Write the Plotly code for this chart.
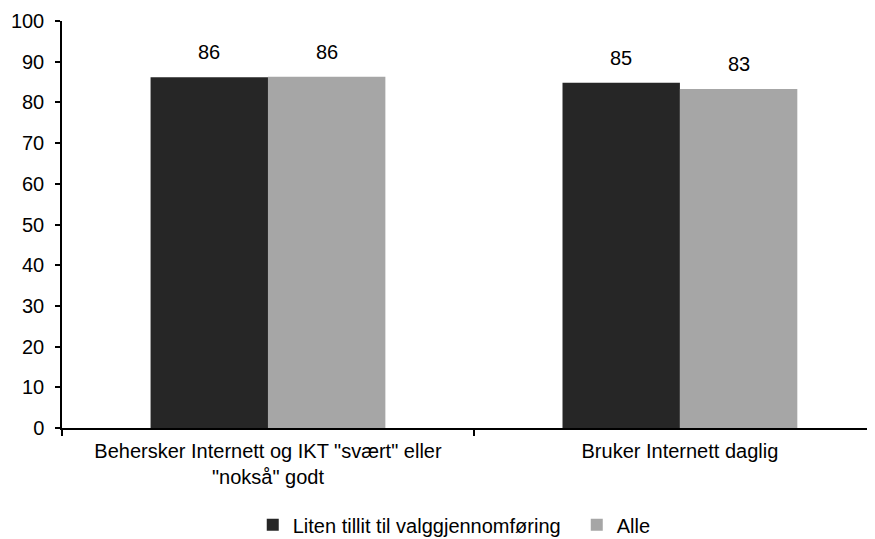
import plotly.graph_objects as go

categories = ['Behersker Internett og IKT "svært" eller<br>"nokså" godt', 'Bruker Internett daglig']
series_names = ["Liten tillit til valggjennomføring\u00a0\u00a0", "Alle"]
low_trust = [86.2, 84.8]
everyone = [86.3, 83.3]
colors = ["#262626", "#a6a6a6"]
y_ticks = list(range(0, 101, 10))

FONT = "Liberation Sans, Arial, sans-serif"
FS = 20
bargap = 0.43

fig = go.Figure()
for name, vals, col in zip(series_names, [low_trust, everyone], colors):
    fig.add_trace(go.Bar(x=categories, y=vals, name=name, marker=dict(color=col, line=dict(width=0))))

# value labels above each bar
half = (1 - bargap) / 4
for si, vals in enumerate([low_trust, everyone]):
    off = -half if si == 0 else half
    for ci, v in enumerate(vals):
        fig.add_annotation(x=ci + off, y=v, text=f"{v:.0f}", showarrow=False,
                           xref="x", yref="y", yanchor="bottom", yshift=12,
                           font=dict(family=FONT, size=FS, color="#000000"))

fig.update_layout(
    width=875, height=539,
    margin=dict(l=54, r=0, t=13, b=119),
    paper_bgcolor="white", plot_bgcolor="white",
    barmode="group", bargap=bargap, bargroupgap=0,
    font=dict(family=FONT, size=FS, color="#000000"),
    showlegend=True,
    legend=dict(orientation="h", xref="container", x=0.51, xanchor="center",
                yref="container", y=0.005, yanchor="bottom",
                font=dict(family=FONT, size=FS), itemwidth=30, traceorder="normal"),
)
fig.update_xaxes(type="category", range=[-0.5, 1.493], tickson="boundaries",
                 ticks="outside", ticklen=6, tickcolor="black", tickwidth=1.5,
                 showline=True, linecolor="black", linewidth=1.5, showgrid=False,
                 tickfont=dict(family=FONT, size=FS), ticklabelstandoff=4, automargin=False)
fig.update_yaxes(range=[0, 100], tickvals=y_ticks, ticks="outside", ticklen=5,
                 tickcolor="black", tickwidth=1.5, showline=True, linecolor="black",
                 linewidth=1.5, showgrid=False, zeroline=False, ticklabeloverflow="allow",
                 tickfont=dict(family=FONT, size=FS), ticklabelstandoff=7, automargin=False)

fig.write_html("out.html")
